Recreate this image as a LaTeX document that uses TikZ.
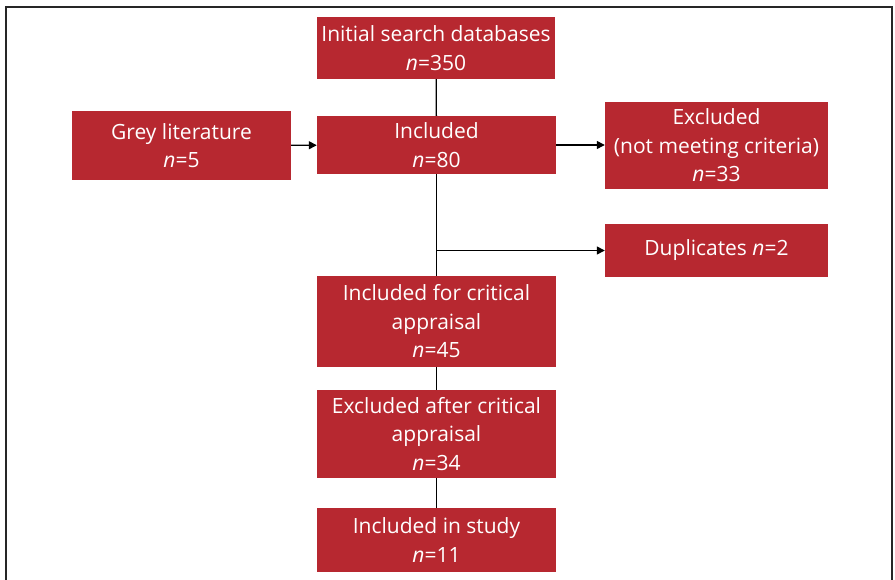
\documentclass[tikz,border=0pt]{standalone}
\usepackage{fontspec}
\setmainfont{Open Sans}
\usetikzlibrary{arrows.meta}

\definecolor{boxred}{RGB}{183,40,48}

\tikzset{
  box/.style={fill=boxred, text=white, inner sep=0pt, align=center,
    font=\fontsize{21}{28.5}\selectfont},
  link/.style={black, line width=1.3pt},
  flow/.style={link, -{Triangle[length=8pt,width=8pt]}}
}

\begin{document}
\begin{tikzpicture}[x=1pt, y=-1pt]
  \useasboundingbox (0,0) rectangle (895,580);
  % Frame
  \draw[black!85, line width=1.5pt] (6,585) -- (6,7) -- (892,7) -- (892,585);

  % ---- Main column ----
  \node[box, minimum width=238pt, minimum height=62pt] (init) at (436,48)
    {Initial search databases\\\textit{n}=350};
  \node[box, minimum width=239pt, minimum height=58pt] (incl) at (436.5,145)
    {Included\\\textit{n}=80};
  \node[box, minimum width=239pt, minimum height=91pt] (crit) at (436.5,321.5)
    {Included for critical\\appraisal\\\textit{n}=45};
  \node[box, minimum width=239pt, minimum height=88pt] (exaft) at (436.5,434)
    {Excluded after critical\\appraisal\\\textit{n}=34};
  \node[box, minimum width=239pt, minimum height=64pt] (study) at (436.5,540)
    {Included in study\\\textit{n}=11};

  % ---- Side boxes ----
  \node[box, minimum width=219pt, minimum height=69pt] (grey) at (181.5,145.5)
    {Grey literature\\\textit{n}=5};
  \node[box, minimum width=223pt, minimum height=87pt] (excl) at (716.5,145.5)
    {Excluded\\(not meeting criteria)\\\textit{n}=33};
  \node[box, minimum width=223pt, minimum height=53pt] (dup) at (716.5,250.5)
    {Duplicates \textit{n}=2};

  % Connectors
  \draw[link] (init) -- (incl);
  \draw[link] (incl) -- (crit);
  \draw[link] (crit) -- (exaft);
  \draw[link] (exaft) -- (study);
  \draw[flow] (grey) -- (incl);
  \draw[flow] (incl.east) -- (excl.west |- incl.east);
  \coordinate (split) at (incl.south |- dup.west);
  \draw[flow] (split) -- (dup.west);
\end{tikzpicture}
\end{document}
